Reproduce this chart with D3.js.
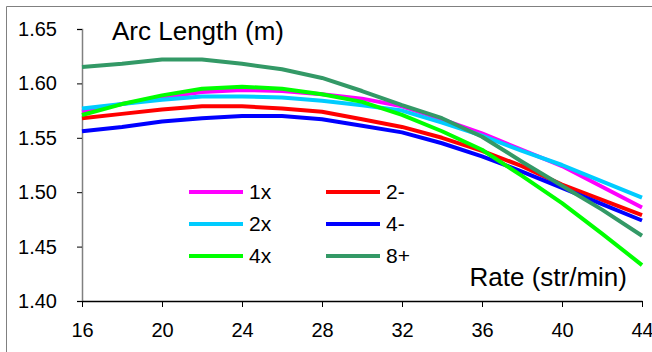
<!DOCTYPE html>
<html>
<head>
<meta charset="utf-8">
<script src="https://cdn.jsdelivr.net/npm/d3@7"></script>
<style>
  body { margin: 0; background: #fff; }
  svg text { font-family: "Liberation Sans", Arial, sans-serif; fill: #000; }
</style>
</head>
<body>
<div id="chart"></div>
<script>
// stroke rate on the x axis
var rates = [16, 18, 20, 22, 24, 26, 28, 30, 32, 34, 36, 38, 40, 42, 44];
var xTicks = [16, 20, 24, 28, 32, 36, 40, 44];
var yTicks = [1.40, 1.45, 1.50, 1.55, 1.60, 1.65];

var seriesNames = ["1x", "2-", "2x", "4-", "4x", "8+"];
var seriesColors = ["#ff00ff", "#ff0000", "#00ccff", "#0000ff", "#00ff00", "#339966"];

// arc length (m) per rate
var arc1x = [1.574, 1.581, 1.587, 1.592, 1.594, 1.593, 1.590, 1.586, 1.579, 1.567, 1.554, 1.539, 1.524, 1.505, 1.486];
var arc2m = [1.568, 1.572, 1.576, 1.579, 1.579, 1.577, 1.574, 1.567, 1.560, 1.550, 1.538, 1.524, 1.507, 1.493, 1.479];
var arc2x = [1.577, 1.581, 1.585, 1.588, 1.588, 1.587, 1.584, 1.580, 1.575, 1.564, 1.552, 1.538, 1.525, 1.510, 1.495];
var arc4m = [1.556, 1.560, 1.565, 1.568, 1.570, 1.570, 1.567, 1.561, 1.555, 1.545, 1.533, 1.519, 1.504, 1.489, 1.474];
var arc4x = [1.571, 1.581, 1.589, 1.595, 1.597, 1.595, 1.590, 1.583, 1.571, 1.556, 1.539, 1.515, 1.490, 1.462, 1.433];
var arc8p = [1.615, 1.618, 1.622, 1.622, 1.618, 1.613, 1.605, 1.593, 1.580, 1.568, 1.551, 1.528, 1.506, 1.484, 1.460];

var allSeries = [arc1x, arc2m, arc2x, arc4m, arc4x, arc8p];

var width = 652, height = 352;

var svg = d3.select("#chart")
    .append("svg")
    .attr("width", width)
    .attr("height", height);

// outer frame (only top and left visible)
svg.append("path")
    .attr("d", "M6.5," + height + "V6.5H" + width)
    .attr("fill", "none")
    .attr("stroke", "#808080")
    .attr("stroke-width", 1);

var x = d3.scaleLinear().domain([16, 44]).range([82, 642]);
var y = d3.scaleLinear().domain([1.40, 1.65]).range([301, 29]);

// Y axis
var yAxis = svg.append("g")
    .attr("transform", "translate(82,0)")
    .call(d3.axisLeft(y).tickValues(yTicks).tickFormat(d3.format(".2f")).tickSize(5).tickPadding(20));
yAxis.select(".domain").attr("stroke", "#808080").attr("stroke-width", 1.5);
yAxis.selectAll(".tick line").attr("stroke", "#000");
yAxis.selectAll("text").style("font-size", "20px");

// X axis
var xAxis = svg.append("g")
    .attr("transform", "translate(0,301)")
    .call(d3.axisBottom(x).tickValues(xTicks).tickSize(6).tickSizeOuter(0).tickPadding(16));
xAxis.select(".domain").attr("stroke", "#000").attr("stroke-width", 1.5);
xAxis.selectAll("text").style("font-size", "20px");

// lines
var line = d3.line()
    .x(function (d, i) { return x(rates[i]); })
    .y(function (d) { return y(d); });

allSeries.forEach(function (s, k) {
    svg.append("path")
        .datum(s)
        .attr("d", line)
        .attr("fill", "none")
        .attr("stroke", seriesColors[k])
        .attr("stroke-width", 4)
        .attr("stroke-linejoin", "round");
});

// titles
svg.append("text").attr("x", 112).attr("y", 40).text("Arc Length (m)").style("font-size", "26px");
svg.append("text").attr("x", 627).attr("y", 286).attr("text-anchor", "end").text("Rate (str/min)").style("font-size", "26px");

// legend, two columns, filled row by row
var legend = svg.append("g");
seriesNames.forEach(function (name, k) {
    var col = k % 2, row = Math.floor(k / 2);
    var lx = 189 + col * 137;
    var ly = 192 + row * 32;
    legend.append("line")
        .attr("x1", lx).attr("x2", lx + 54)
        .attr("y1", ly).attr("y2", ly)
        .attr("stroke", seriesColors[k])
        .attr("stroke-width", 4);
    legend.append("text")
        .attr("x", lx + 60).attr("y", ly + 7)
        .text(name)
        .style("font-size", "21px");
});
</script>
</body>
</html>
